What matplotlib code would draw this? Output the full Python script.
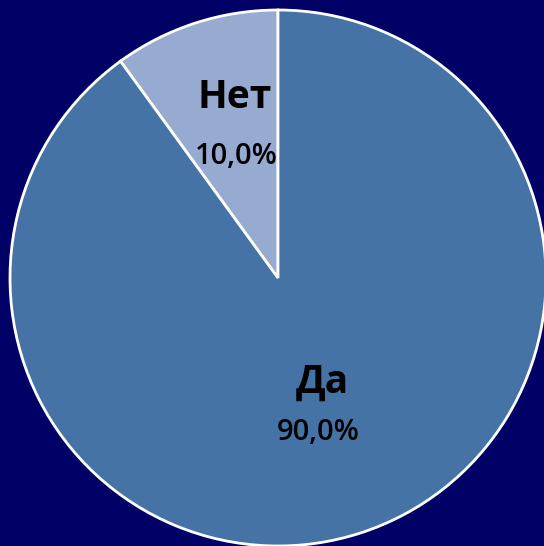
import matplotlib.pyplot as plt

labels = ['Нет', 'Да']
values = [10.0, 90.0]
pct_labels = ['10,0%', '90,0%']
colors = ['#97aacf', '#4673a5']

fig = plt.figure(figsize=(5.44, 5.46), dpi=100, facecolor='#000066')
ax = fig.add_axes([0, 0, 1, 1])
ax.set_facecolor('#000066')

wedges, _ = ax.pie(values, colors=colors, startangle=90, counterclock=True,
                   center=(278, 268), radius=268,
                   wedgeprops=dict(edgecolor='white', linewidth=2))

# подписи
name_pos = [(235, 449), (322, 164)]
pct_pos = [(236, 389), (318, 114)]
for (x, y), (px, py), lab, pct in zip(name_pos, pct_pos, labels, pct_labels):
    ax.text(x, y, lab, ha='center', va='center', fontsize=28,
            fontweight='bold', family='Open Sans', color='black')
    ax.text(px, py, pct, ha='center', va='center', fontsize=21,
            fontweight='semibold', family='Open Sans', color='black')

ax.set_xlim(0, 544)
ax.set_ylim(0, 546)
ax.set_aspect('equal')
ax.axis('off')
fig.savefig('out.png', dpi=100, facecolor=fig.get_facecolor())
